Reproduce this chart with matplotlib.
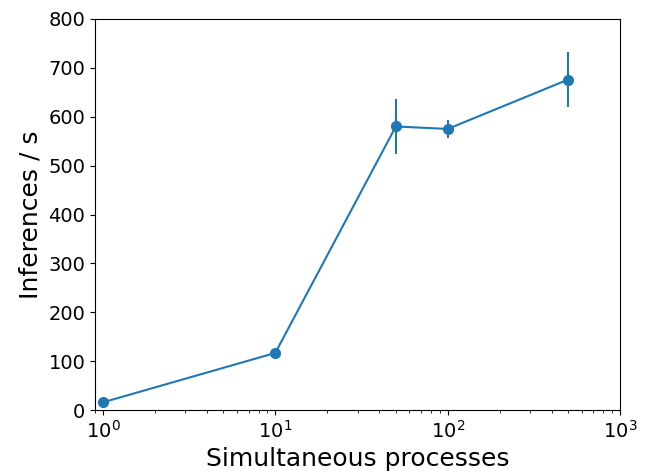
import matplotlib
matplotlib.use("Agg")
import matplotlib.pyplot as plt

# 同时运行的进程数与吞吐量
processes = [1, 10, 50, 100, 500]
inferences = [16, 117, 580, 575, 676]
errors = [3, 5, 57, 19, 56]

fig = plt.figure(figsize=(6.48, 4.72), dpi=100)
ax = fig.add_axes([0.1466, 0.131, 0.8104, 0.829])

ax.errorbar(processes, inferences, yerr=errors, marker='o', color='#1f77b4',
            markersize=7, linewidth=1.5)
ax.set_xscale('log')
ax.set_xlim(0.9, 1000)
ax.set_ylim(0, 800)

ax.set_xlabel('Simultaneous processes', fontsize=18)
ax.set_ylabel('Inferences / s', fontsize=18)
ax.tick_params(axis='both', labelsize=14)

fig.savefig('out.png', dpi=100)
